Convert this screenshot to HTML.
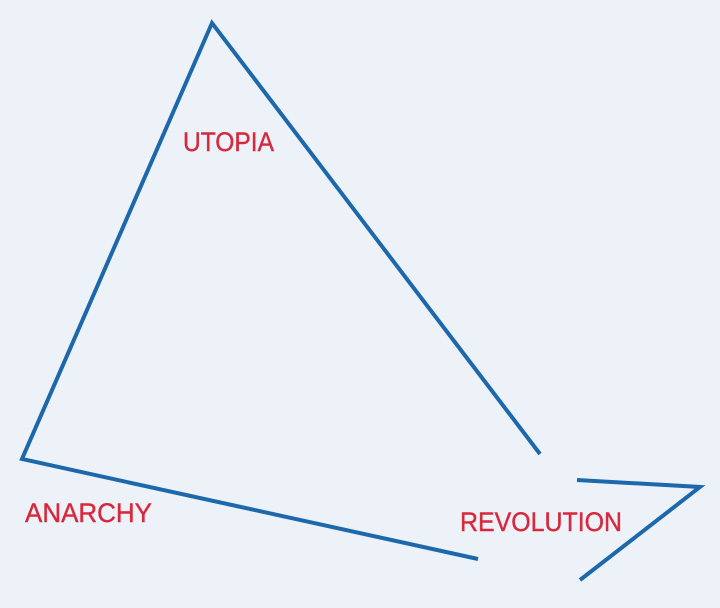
<!DOCTYPE html>
<html><head><style>
html,body{margin:0;padding:0;background:#edf2f9;}
svg{display:block}
text{font-family:"Liberation Sans",sans-serif;fill:#d7283d;font-size:27px;stroke:#d7283d;stroke-width:0.4;}
</style></head><body>
<svg width="720" height="608" viewBox="0 0 720 608">
<rect width="720" height="608" fill="#edf2f9"/>
<g fill="none" stroke="#1c68aa" stroke-width="4" stroke-linejoin="miter">
<polyline points="540,454 212,23 22,459 478,559"/>
<polyline points="577,480 700,487 580,580"/>
</g>
<text x="183" y="151" textLength="91" lengthAdjust="spacingAndGlyphs">UTOPIA</text>
<text x="25" y="522" textLength="127" lengthAdjust="spacingAndGlyphs">ANARCHY</text>
<text x="460" y="531" textLength="162" lengthAdjust="spacingAndGlyphs">REVOLUTION</text>
</svg>
</body></html>
